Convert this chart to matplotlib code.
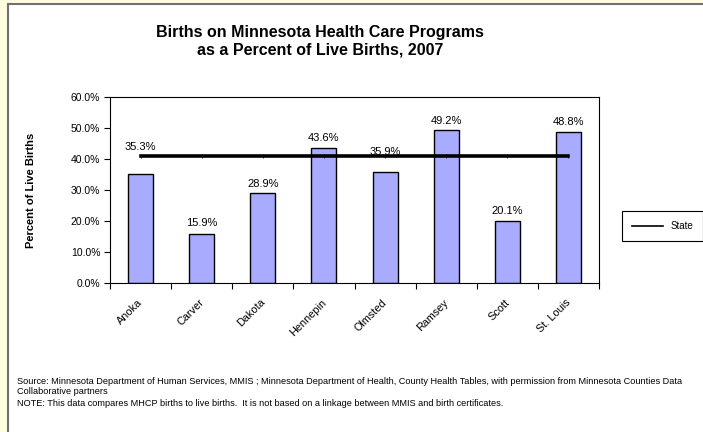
import matplotlib
matplotlib.use("Agg")
import matplotlib.pyplot as plt
from matplotlib.lines import Line2D
from matplotlib.patches import Rectangle
from matplotlib.ticker import FuncFormatter

plt.rcParams["font.family"] = ["Liberation Sans", "DejaVu Sans"]

COUNTIES = ["Anoka", "Carver", "Dakota", "Hennepin", "Olmsted", "Ramsey", "Scott", "St. Louis"]
MHCP_PCT = [35.3, 15.9, 28.9, 43.6, 35.9, 49.2, 20.1, 48.8]
STATE_PCT = [41.1] * len(COUNTIES)
# label lift above each bar top, in points (two labels sit higher in the original)
LABEL_LIFT = [19, 8, 7, 7, 14, 7, 7, 7]

BAR_COLOR = "#A9ABFF"


def build_chart():
    fig = plt.figure(figsize=(7.03, 4.32), dpi=100)
    fig.patch.set_facecolor("#FFFDE0")
    fig.patches.append(Rectangle((8 / 703, 0), 1, 1 - 4 / 432, transform=fig.transFigure,
                                 facecolor="white", edgecolor="none", zorder=-10))
    fig.lines.append(Line2D([8 / 703, 8 / 703], [0, 1 - 4 / 432], transform=fig.transFigure,
                            color="#707070", linewidth=1.5, zorder=-5))
    fig.lines.append(Line2D([8 / 703, 1], [1 - 4 / 432, 1 - 4 / 432], transform=fig.transFigure,
                            color="#707070", linewidth=1.5, zorder=-5))

    ax = fig.add_axes([110 / 703, 149 / 432, 489 / 703, 186 / 432])
    x = list(range(len(COUNTIES)))
    ax.bar(x, MHCP_PCT, width=0.41, color=BAR_COLOR, edgecolor="black", linewidth=1.0, zorder=2)
    ax.plot(x, STATE_PCT, color="black", linewidth=2.6, marker="|", markersize=3,
            markeredgewidth=0.6, zorder=4)

    for xi, v, lift in zip(x, MHCP_PCT, LABEL_LIFT):
        ax.annotate(f"{v:.1f}%", (xi, v), xytext=(0, lift), textcoords="offset points",
                    ha="center", va="center", fontsize=8, zorder=3)

    ax.set_xlim(-0.5, len(COUNTIES) - 0.5)
    ax.set_ylim(0, 60)
    ax.set_yticks(range(0, 61, 10))
    ax.yaxis.set_major_formatter(FuncFormatter(lambda v, _: f"{v:.1f}%"))
    ax.tick_params(axis="y", labelsize=7.5, length=4, width=0.8, direction="out", pad=3)

    ax.set_xticks([i - 0.5 for i in range(len(COUNTIES) + 1)])
    ax.set_xticklabels([])
    ax.tick_params(axis="x", length=4, width=0.8, direction="out")
    for xi, name in zip(x, COUNTIES):
        ax.text(xi - 0.05, -4.6, name, rotation=45, ha="right", va="top",
                fontsize=7.8, rotation_mode="anchor")

    for s in ax.spines.values():
        s.set_linewidth(0.8)

    ax.set_ylabel("Percent of Live Births", fontsize=8, fontweight="bold", labelpad=25)

    fig.text(320 / 703, 1 - 32 / 432, "Births on Minnesota Health Care Programs",
             ha="center", va="center", fontsize=11.5, fontweight="bold")
    fig.text(320 / 703, 1 - 50 / 432, "as a Percent of Live Births, 2007",
             ha="center", va="center", fontsize=11.5, fontweight="bold")

    state_handle = Line2D([], [], color="black", linewidth=1.2)
    leg = ax.legend([state_handle], ["State"], loc="center left",
                    bbox_to_anchor=(622 / 703, 1 - 226 / 432),
                    bbox_transform=fig.transFigure, frameon=True, fancybox=False,
                    edgecolor="black", fontsize=7, handlelength=3.2, borderpad=1.0,
                    borderaxespad=0, framealpha=1)
    leg.get_frame().set_linewidth(0.8)

    fig.text(17 / 703, 1 - 381 / 432,
             "Source: Minnesota Department of Human Services, MMIS ; Minnesota Department of Health, "
             "County Health Tables, with permission from Minnesota Counties Data",
             ha="left", va="center", fontsize=6.6)
    fig.text(17 / 703, 1 - 392 / 432, "Collaborative partners",
             ha="left", va="center", fontsize=6.6)
    fig.text(17 / 703, 1 - 404 / 432,
             "NOTE: This data compares MHCP births to live births.  It is not based on a linkage "
             "between MMIS and birth certificates.",
             ha="left", va="center", fontsize=6.6)

    fig.savefig("out.png", dpi=100)


if __name__ == "__main__":
    build_chart()
